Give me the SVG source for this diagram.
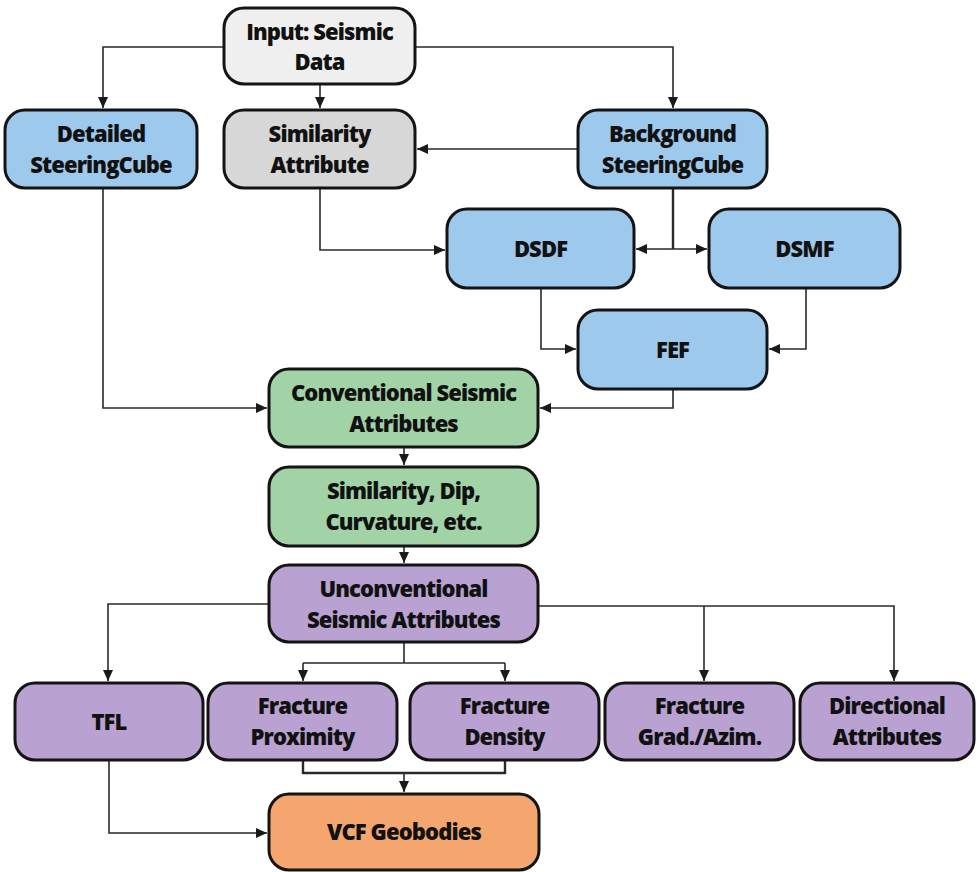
<svg xmlns="http://www.w3.org/2000/svg" width="977" height="872" viewBox="0 0 977 872">
<defs>
<marker id="ah" markerUnits="userSpaceOnUse" markerWidth="11" markerHeight="10" refX="11" refY="5" orient="auto">
<path d="M0,0 L11,5 L0,10 z" fill="#1a1a1a"/>
</marker>
<style>
.n rect{stroke:#141414;stroke-width:3}
.n text{font-family:"Open Sans","Liberation Sans",sans-serif;font-weight:800;font-size:22px;letter-spacing:-0.9px;fill:#111;text-anchor:middle}
.light{fill:#efefef}
.gray{fill:#d7d7d7}
.blue{fill:#9dc9ec}
.green{fill:#a2d3a6}
.purple{fill:#b9a2d2}
.orange{fill:#f5a66e}
#connectors path{fill:none;stroke:#2a2a2a;stroke-width:1.6}
#connectors .a{marker-end:url(#ah)}
</style>
</defs>
<rect width="977" height="872" fill="#ffffff"/>
<g id="connectors">
<path class="a" d="M224,47 H103 V108"/>
<path class="a" d="M320,84 V108"/>
<path class="a" d="M415,47 H673 V108"/>
<path class="a" d="M578,149 H417"/>
<path class="a" d="M320,188 V250 H445"/>
<path d="M673,188 V249" style="stroke-width:2.4"/>
<path class="a" d="M673,249 H636"/>
<path class="a" d="M673,249 H707"/>
<path class="a" d="M541,288 V349 H576"/>
<path class="a" d="M806,288 V349 H769"/>
<path class="a" d="M673,389 V408 H540"/>
<path class="a" d="M103,188 V408 H267"/>
<path class="a" d="M404,447 V465"/>
<path class="a" d="M404,546 V563"/>
<path class="a" d="M269,604 H108 V681"/>
<path class="a" d="M538,606 H894 V681"/>
<path class="a" d="M704,606 V681"/>
<path d="M404,642 V663 M303,663 H505"/>
<path class="a" d="M303,663 V681"/>
<path class="a" d="M505,663 V681"/>
<path d="M303,760 V773 H505 V760" style="stroke-width:2.4"/>
<path class="a" d="M404,773 V792"/>
<path class="a" d="M109,760 V833 H267"/>
</g>
<g id="input" class="n"><rect class="light" x="224" y="8" width="191" height="76" rx="20"/><text x="319.5" y="40">Input: Seismic</text><text x="319.5" y="70">Data</text></g>
<g id="detailed" class="n"><rect class="blue" x="5" y="110" width="192" height="78" rx="20"/><text x="101" y="142">Detailed</text><text x="101" y="173">SteeringCube</text></g>
<g id="similarity" class="n"><rect class="gray" x="224" y="110" width="191" height="78" rx="20"/><text x="319.5" y="142">Similarity</text><text x="319.5" y="173">Attribute</text></g>
<g id="background" class="n"><rect class="blue" x="578" y="110" width="189" height="78" rx="20"/><text x="672.5" y="142">Background</text><text x="672.5" y="173">SteeringCube</text></g>
<g id="dsdf" class="n"><rect class="blue" x="447" y="209" width="187" height="79" rx="20"/><text x="540.5" y="257">DSDF</text></g>
<g id="dsmf" class="n"><rect class="blue" x="709" y="209" width="191" height="79" rx="20"/><text x="804.5" y="257">DSMF</text></g>
<g id="fef" class="n"><rect class="blue" x="578" y="310" width="189" height="79" rx="20"/><text x="672.5" y="358">FEF</text></g>
<g id="conventional" class="n"><rect class="green" x="269" y="369" width="269" height="78" rx="20"/><text x="403.5" y="401">Conventional Seismic</text><text x="403.5" y="432">Attributes</text></g>
<g id="simdip" class="n"><rect class="green" x="269" y="467" width="269" height="79" rx="20"/><text x="403.5" y="499">Similarity, Dip,</text><text x="403.5" y="530">Curvature, etc.</text></g>
<g id="unconventional" class="n"><rect class="purple" x="269" y="565" width="269" height="77" rx="20"/><text x="403.5" y="597">Unconventional</text><text x="403.5" y="628">Seismic Attributes</text></g>
<g id="tfl" class="n"><rect class="purple" x="15" y="683" width="188" height="77" rx="20"/><text x="109" y="730">TFL</text></g>
<g id="proximity" class="n"><rect class="purple" x="208" y="683" width="189" height="77" rx="20"/><text x="302.5" y="714">Fracture</text><text x="302.5" y="745">Proximity</text></g>
<g id="density" class="n"><rect class="purple" x="410" y="683" width="189" height="77" rx="20"/><text x="504.5" y="714">Fracture</text><text x="504.5" y="745">Density</text></g>
<g id="gradazim" class="n"><rect class="purple" x="605" y="683" width="189" height="77" rx="20"/><text x="699.5" y="714">Fracture</text><text x="699.5" y="745">Grad./Azim.</text></g>
<g id="directional" class="n"><rect class="purple" x="800" y="683" width="174" height="77" rx="20"/><text x="887" y="714">Directional</text><text x="887" y="745">Attributes</text></g>
<g id="vcf" class="n"><rect class="orange" x="269" y="794" width="270" height="76" rx="20"/><text x="404" y="840">VCF Geobodies</text></g>
</svg>
